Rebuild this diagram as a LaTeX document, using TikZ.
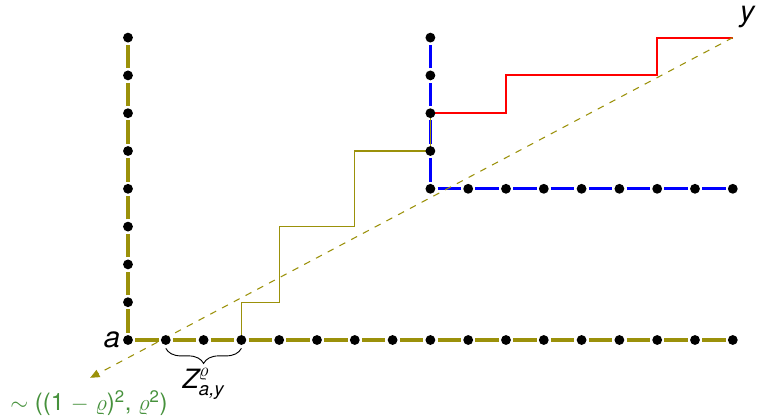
\documentclass[tikz,border=0pt]{standalone}
\usepackage{amsmath}
\usepackage{fontspec}
\setmainfont{TeX Gyre Heros}
\usetikzlibrary{decorations.pathreplacing,arrows.meta}
\definecolor{myolive}{RGB}{155,145,10}
\definecolor{mygreen}{RGB}{70,145,60}
\definecolor{myblue}{RGB}{0,0,255}
\tikzset{
  gridline/.style={line width=2.5pt, dash pattern=on 0pt off 0.19cm on 0.62cm off 0.19cm},
  dot/.style={circle, fill=black, inner sep=0pt, minimum size=0.26cm},
  walk/.style={line width=0.8pt, myolive},
  redwalk/.style={line width=1.5pt, red},
  diag/.style={myolive, line width=0.8pt, dash pattern=on 5pt off 5pt, -{Triangle[length=7pt,width=6pt]}},
  lbl/.style={inner sep=0pt, font=\fontsize{22}{25}\selectfont\itshape},
}
\begin{document}
\begin{tikzpicture}
\useasboundingbox (-3.386,-2.011) rectangle (16.667,8.995);
% coordinates
\foreach \i in {0,...,16} { \coordinate (b\i) at (\i,0); }
\foreach \j in {1,...,8} { \coordinate (l\j) at (0,\j); }
\foreach \j in {4,...,8} { \coordinate (v\j) at (8,\j); }
\foreach \i in {9,...,16} { \coordinate (h\i) at (\i,4); }
\coordinate (y) at (16,8);
\coordinate (tail) at (-1,-1);
% olive grid lines
\foreach \i [evaluate=\i as \n using int(\i+1)] in {0,...,15} { \draw[gridline, myolive] (b\i) -- (b\n); }
\draw[gridline, myolive] (b0) -- (l1);
\foreach \j [evaluate=\j as \n using int(\j+1)] in {1,...,7} { \draw[gridline, myolive] (l\j) -- (l\n); }
% blue lines
\foreach \j [evaluate=\j as \n using int(\j+1)] in {4,...,7} { \draw[gridline, myblue] (v\j) -- (v\n); }
\draw[gridline, myblue] (v4) -- (h9);
\foreach \i [evaluate=\i as \n using int(\i+1)] in {9,...,15} { \draw[gridline, myblue] (h\i) -- (h\n); }
% paths
\draw[walk] (b3) |- (4,1) |- (6,3) |- (v5) -- (v6);
\draw[redwalk] (v6) -| (10,7) -| (14,8) -- (y);
\draw[diag] (y) -- (tail);
% dots
\foreach \i in {0,...,16} { \node[dot] at (b\i) {}; }
\foreach \j in {1,...,8} { \node[dot] at (l\j) {}; }
\foreach \j in {4,...,8} { \node[dot] at (v\j) {}; }
\foreach \i in {9,...,16} { \node[dot] at (h\i) {}; }
% labels
\node[lbl] (la) at (-0.42,0) {a};
\node[lbl] (ly) at (16.38,8.55) {y};
\draw[line width=0.7pt, decorate, decoration={brace, mirror, amplitude=0.4cm}] (1,-0.22) -- (3,-0.22) coordinate[midway] (bm);
\node[inner sep=0pt, font=\fontsize{20}{23}\selectfont] (z) at (2,-1.17) {$\textit{Z}^{\varrho}_{\text{\itshape a,y}}$};
\node[inner sep=0pt, mygreen, font=\fontsize{18}{21}\selectfont] (g) at (-1.03,-1.67) {$\sim$ ((1 $-$ $\varrho$)\textsuperscript{2}, $\varrho$\textsuperscript{2})};
\end{tikzpicture}
\end{document}
